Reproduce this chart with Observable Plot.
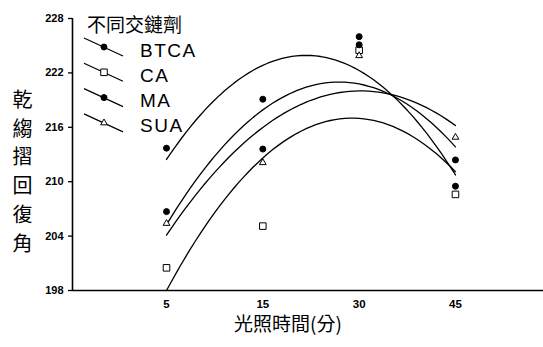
<!DOCTYPE html>
<html><head><meta charset="utf-8">
<script src="https://cdn.jsdelivr.net/npm/d3@7"></script>
<script src="https://cdn.jsdelivr.net/npm/@observablehq/plot@0.6"></script>
<style>
body{margin:0;background:#fff;}
#wrap{position:relative;width:543px;height:347px;}
</style></head><body><div id="wrap"></div>
<script>
// ---- data ----
const times = ["5", "15", "30", "45"];           // 光照時間(分), equally spaced categories
const seriesNames = ["BTCA", "CA", "MA", "SUA"];
const btca = [213.7, 219.1, 226.0, 209.5];
const ca   = [200.5, 205.1, 224.5, 208.6];
const ma   = [206.7, 213.6, 225.1, 212.4];
const sua  = [205.4, 212.1, 223.9, 214.9];
const yTicks = [198, 204, 210, 216, 222, 228];
const legendTitle = "不同交鏈劑";
const xTitle = "光照時間(分)";
const yTitle = "乾縐摺回復角";

const valuesBySeries = {BTCA: btca, CA: ca, MA: ma, SUA: sua};
const symbolOf = {BTCA: "circle", CA: "square", MA: "circle", SUA: "triangle"};
const fillOf = {BTCA: "black", CA: "white", MA: "black", SUA: "white"};
const rOf = {BTCA: 3, CA: 3.7, MA: 3, SUA: 2.5};

// points table: category index (1..4) -> value
const points = seriesNames.flatMap(s => valuesBySeries[s].map((v, i) => ({series: s, t: i + 1, time: times[i], v})));

// quadratic least-squares fit (as in the original chart) over category positions
function quadFit(ys) {
  const xs = ys.map((_, i) => i + 1);
  const S = k => d3.sum(xs, x => x ** k);
  const T = k => d3.sum(xs, (x, i) => x ** k * ys[i]);
  const A = [[S(0), S(1), S(2), T(0)], [S(1), S(2), S(3), T(1)], [S(2), S(3), S(4), T(2)]];
  for (let c = 0; c < 3; c++) {
    for (let r = c + 1; r < 3; r++) {
      const f = A[r][c] / A[c][c];
      for (let k = c; k < 4; k++) A[r][k] -= f * A[c][k];
    }
  }
  const b = [0, 0, 0];
  for (let r = 2; r >= 0; r--) {
    let s = A[r][3];
    for (let k = r + 1; k < 3; k++) s -= A[r][k] * b[k];
    b[r] = s / A[r][r];
  }
  return x => b[0] + b[1] * x + b[2] * x * x;
}
const fits = seriesNames.flatMap(s => {
  const f = quadFit(valuesBySeries[s]);
  return d3.range(1, 4.0001, 0.05).map(t => ({series: s, t, v: f(t)}));
});

const xDomain = [0.024, 4.914];
const yDomain = [198, 228];
const cjk = "'Noto Sans CJK TC', sans-serif";

const chart = Plot.plot({
  width: 543, height: 347,
  marginTop: 18, marginBottom: 57, marginLeft: 72, marginRight: 0,
  style: {fontFamily: "'Liberation Sans', Arial, sans-serif", background: "white", color: "black"},
  x: {domain: xDomain},
  y: {domain: yDomain},
  marks: [
    Plot.axisY({ticks: yTicks, tickSize: 4, tickPadding: 5, label: null, fontSize: 11, fontWeight: "bold", strokeWidth: 1.3}),
    Plot.axisX({ticks: [1, 2, 3, 4], tickFormat: i => times[i - 1], tickSize: 0, tickPadding: 9, label: null, fontSize: 11.5, fontWeight: "bold"}),
    Plot.ruleY([yDomain[0]], {stroke: "black", strokeWidth: 1.6}),
    Plot.ruleX([xDomain[0]], {y1: yDomain[0], y2: yDomain[1], stroke: "black", strokeWidth: 1.6}),
    Plot.line(fits, {x: "t", y: "v", z: "series", stroke: "black", strokeWidth: 1.3}),
    ...seriesNames.map(s => Plot.dot(points.filter(d => d.series === s), {
      x: "t", y: "v", symbol: symbolOf[s], r: rOf[s], fill: fillOf[s], stroke: "black", strokeWidth: 1
    })),
    Plot.text([yTitle.split("").join("\n")], {frameAnchor: "left", textAnchor: "middle", lineAnchor: "middle",
      dx: -50, dy: 15, fontSize: 20, lineHeight: 1.44, fontFamily: cjk}),
    Plot.text([xTitle], {frameAnchor: "bottom", textAnchor: "middle", lineAnchor: "middle",
      dx: -20, dy: 34, fontSize: 19, fontFamily: cjk})
  ]
});
document.getElementById("wrap").appendChild(chart);

// ---- legend (drawn inside the same svg, top-left of plot area) ----
const svg = d3.select(chart);
const lg = svg.append("g").attr("class", "legend").attr("text-anchor", "start");
lg.append("text").attr("x", 87).attr("y", 23).attr("dominant-baseline", "central")
  .attr("font-family", cjk).attr("font-size", 19).attr("fill", "black").text(legendTitle);
seriesNames.forEach((s, i) => {
  const cy = 47 + i * 25.3;
  const g = lg.append("g");
  g.append("line").attr("x1", 84).attr("y1", cy - 9).attr("x2", 123).attr("y2", cy + 9)
    .attr("stroke", "black").attr("stroke-width", 1.2);
  const size = Math.PI * rOf[s] * rOf[s];
  const sym = symbolOf[s] === "circle" ? d3.symbolCircle : symbolOf[s] === "square" ? d3.symbolSquare : d3.symbolTriangle;
  g.append("path").attr("d", d3.symbol(sym, size)()).attr("transform", `translate(104,${cy})`)
    .attr("fill", fillOf[s]).attr("stroke", "black").attr("stroke-width", 1);
  g.append("text").attr("x", 140).attr("y", cy + 3).attr("dominant-baseline", "central")
    .attr("font-size", 19).attr("letter-spacing", "1.5px").attr("fill", "black").text(s);
});
</script>
</body></html>
